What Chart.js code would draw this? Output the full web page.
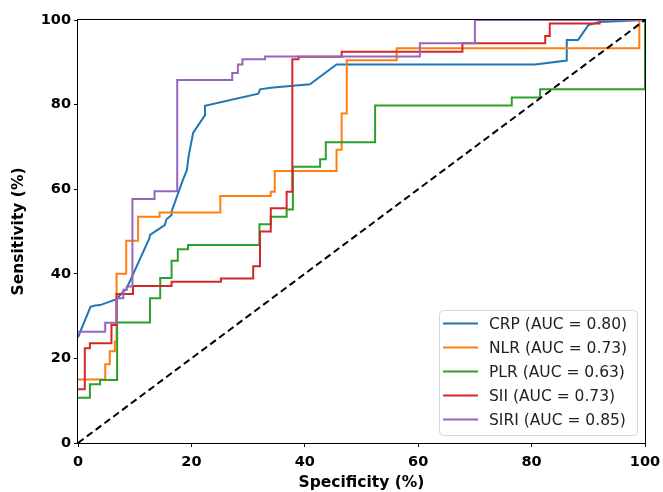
<!DOCTYPE html>
<html>
<head>
<meta charset="utf-8">
<script src="https://cdn.jsdelivr.net/npm/chart.js@4.4.1/dist/chart.umd.min.js"></script>
<style>
  html, body { margin: 0; padding: 0; background: #fff; }
  canvas { display: block; }
</style>
</head>
<body>
<canvas id="roc" width="663" height="492"></canvas>
<script>
// --- ROC steps (x = specificity axis %, y = sensitivity %) ---
const seriesNames  = ['CRP (AUC = 0.80)', 'NLR (AUC = 0.73)', 'PLR (AUC = 0.63)', 'SII (AUC = 0.73)', 'SIRI (AUC = 0.85)'];
const seriesColors = ['#1f77b4', '#ff7f0e', '#2ca02c', '#d62728', '#9467bd'];

const crpX = [0, 2.2, 3, 3.9, 6.8, 8, 8.5, 12.6, 12.7, 15.3, 15.6, 16.5, 16.5, 18.5, 19.2, 19.5, 20.3, 22.4, 22.4, 31.8, 32.1, 34, 40.9, 45.6, 80.6, 86.2, 86.2, 88.2, 90, 92, 100];
const crpY = [25, 32.2, 32.5, 32.6, 34, 35.8, 36.3, 48.4, 49.2, 51.5, 52.9, 53.9, 54.7, 62.2, 64.5, 67.7, 73.3, 77.5, 79.7, 82.6, 83.6, 84, 84.8, 89.5, 89.5, 90.4, 95.3, 95.3, 98.8, 99.5, 100];

const nlrX = [0, 4.8, 4.8, 5.6, 5.6, 6.5, 6.5, 6.8, 6.8, 8.5, 8.5, 10.6, 10.6, 14.4, 14.4, 25.1, 25.1, 34, 34, 34.7, 34.7, 45.6, 45.6, 46.5, 46.5, 47.4, 47.4, 56.2, 56.2, 99, 99, 100];
const nlrY = [15, 15, 18.6, 18.6, 21.7, 21.7, 24, 24, 40, 40, 47.8, 47.8, 53.5, 53.5, 54.5, 54.5, 58.4, 58.4, 59.4, 59.4, 64.3, 64.3, 69.3, 69.3, 77.9, 77.9, 90.5, 90.5, 93.3, 93.3, 100, 100];

const plrX = [0, 2.1, 2.1, 3.9, 3.9, 6.9, 6.9, 12.7, 12.7, 14.5, 14.5, 16.5, 16.5, 17.6, 17.6, 19.4, 19.4, 32, 32, 34, 34, 36.8, 36.8, 37.9, 37.9, 42.7, 42.7, 43.7, 43.7, 52.4, 52.4, 76.5, 76.5, 81.5, 81.5, 100, 100];
const plrY = [10.7, 10.7, 13.9, 13.9, 14.9, 14.9, 28.5, 28.5, 34.2, 34.2, 39, 39, 43.1, 43.1, 45.8, 45.8, 46.8, 46.8, 51.7, 51.7, 53.5, 53.5, 55.2, 55.2, 65.3, 65.3, 67.1, 67.1, 71.1, 71.1, 79.8, 79.8, 81.7, 81.7, 83.6, 83.6, 100];

const siiX = [0, 1.2, 1.2, 2.1, 2.1, 5.9, 5.9, 6.8, 6.8, 9.7, 9.7, 16.5, 16.5, 25.2, 25.2, 30.9, 30.9, 32.1, 32.1, 34, 34, 36.8, 36.8, 37.8, 37.8, 38.9, 38.9, 46.5, 46.5, 67.8, 67.8, 82.4, 82.4, 83.2, 83.2, 92, 92, 100];
const siiY = [12.7, 12.7, 22.4, 22.4, 23.6, 23.6, 27.9, 27.9, 35.2, 35.2, 37.1, 37.1, 38.1, 38.1, 38.9, 38.9, 41.8, 41.8, 50, 50, 55.5, 55.5, 59.4, 59.4, 90.7, 90.7, 91.3, 91.3, 92.5, 92.5, 94.5, 94.5, 96.2, 96.2, 99.2, 99.2, 100, 100];

const siriX = [0, 4.8, 4.8, 6.8, 6.8, 8, 8, 8.6, 8.6, 9.6, 9.6, 13.5, 13.5, 17.5, 17.5, 27.2, 27.2, 28.2, 28.2, 29, 29, 33, 33, 60.3, 60.3, 70, 70, 100];
const siriY = [26.3, 26.3, 28.4, 28.4, 34.2, 34.2, 36.2, 36.2, 37, 37, 57.7, 57.7, 59.5, 59.5, 85.8, 85.8, 87.5, 87.5, 89.5, 89.5, 90.7, 90.7, 91.4, 91.4, 94.5, 94.5, 100, 100];

const diagX = [0, 100];
const diagY = [0, 100];

const tickValues = [0, 20, 40, 60, 80, 100];

function toPoints(xs, ys) {
    return xs.map((x, i) => ({ x: x, y: ys[i] }));
}

const seriesData = [
    toPoints(crpX, crpY),
    toPoints(nlrX, nlrY),
    toPoints(plrX, plrY),
    toPoints(siiX, siiY),
    toPoints(siriX, siriY)
];

// later series sit on top, like matplotlib
const datasets = seriesData.map((pts, i) => ({
    label: seriesNames[i],
    data: pts,
    borderColor: seriesColors[i],
    backgroundColor: seriesColors[i],
    borderWidth: 2,
    showLine: true,
    pointRadius: 0,
    tension: 0,
    order: seriesNames.length - i
}));
datasets.push({
    label: 'chance',
    data: toPoints(diagX, diagY),
    borderColor: '#000',
    borderWidth: 2,
    borderDash: [7, 4],
    showLine: true,
    pointRadius: 0,
    order: 0
});

// --- frame round the plot + legend box in the lower right ---
const framePlugin = {
    id: 'frame',
    afterDatasetsDraw(chart) {
        const { ctx, chartArea: a } = chart;
        ctx.save();
        ctx.strokeStyle = '#000';
        ctx.lineWidth = 1;
        ctx.strokeRect(a.left - 0.5, a.top - 0.5, a.right - a.left + 1, a.bottom - a.top + 1);
        ctx.restore();
    }
};

const legendPlugin = {
    id: 'boxLegend',
    afterDraw(chart) {
        const { ctx } = chart;
        const x0 = 439.5, y0 = 310.5, w = 198, h = 125, r = 4;
        ctx.save();
        ctx.beginPath();
        ctx.roundRect(x0, y0, w, h, r);
        ctx.fillStyle = 'rgba(255,255,255,0.8)';
        ctx.fill();
        ctx.strokeStyle = '#d6d6d6';
        ctx.lineWidth = 1;
        ctx.stroke();
        ctx.font = '15.5px "DejaVu Sans"';
        ctx.textBaseline = 'middle';
        seriesNames.forEach((name, i) => {
            const cy = 323.5 + i * 24;
            ctx.beginPath();
            ctx.moveTo(443, cy);
            ctx.lineTo(478, cy);
            ctx.strokeStyle = seriesColors[i];
            ctx.lineWidth = 2;
            ctx.stroke();
            ctx.fillStyle = '#222';
            ctx.fillText(name, 489, cy + 1);
        });
        ctx.restore();
    }
};

// keep the plot box fixed: no extra room for edge tick labels
function pinX(s) {
    s.height = 49;
    s.paddingLeft = 0;
    s.paddingRight = 0;
}
function pinY(s) {
    s.width = 78;
    s.paddingTop = 0;
    s.paddingBottom = 0;
}

Chart.defaults.font.family = '"DejaVu Sans", sans-serif';
Chart.defaults.color = '#000';

new Chart(document.getElementById('roc'), {
    type: 'scatter',
    data: { datasets: datasets },
    options: {
        responsive: false,
        animation: false,
        events: [],
        layout: { padding: { top: 20, right: 18, left: 0, bottom: 0 } },
        plugins: {
            legend: { display: false },
            tooltip: { enabled: false }
        },
        scales: {
            x: {
                type: 'linear',
                min: 0,
                max: 100,
                afterBuildTicks: s => { s.ticks = tickValues.map(v => ({ value: v })); },
                afterFit: pinX,
                border: { display: false },
                grid: { drawOnChartArea: false, tickLength: 4, color: '#000' },
                ticks: { color: '#000', padding: 7, maxRotation: 0, font: { size: 14.5, weight: 'bold' } },
                title: { display: true, text: 'Specificity (%)', color: '#000', padding: 0, font: { size: 15.5, weight: 'bold' } }
            },
            y: {
                type: 'linear',
                min: 0,
                max: 100,
                afterBuildTicks: s => { s.ticks = tickValues.map(v => ({ value: v })); },
                afterFit: pinY,
                border: { display: false },
                grid: { drawOnChartArea: false, tickLength: 4, color: '#000' },
                ticks: { color: '#000', padding: 3, font: { size: 14.5, weight: 'bold' } },
                title: { display: true, text: 'Sensitivity (%)', color: '#000', padding: { top: 10, bottom: 0 }, font: { size: 15.5, weight: 'bold' } }
            }
        }
    },
    plugins: [framePlugin, legendPlugin]
});
</script>
</body>
</html>
